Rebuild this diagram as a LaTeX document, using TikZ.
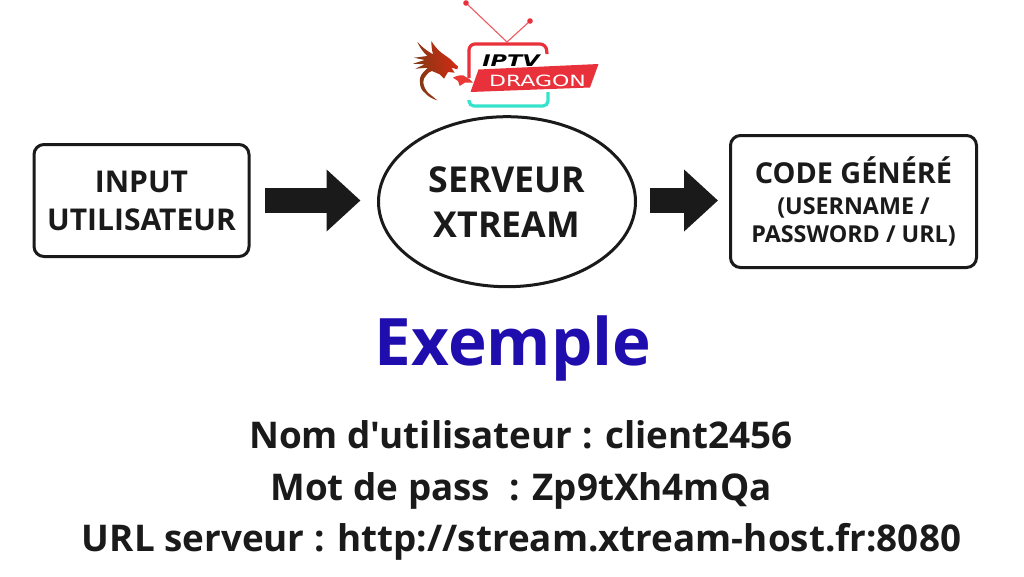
\documentclass[tikz,border=0pt]{standalone}
\usepackage{fontspec}
\setmainfont{Open Sans}
\newfontfamily\plainsans{Open Sans}
\newfontfamily\logofont{DejaVu Sans}
\usetikzlibrary{shapes.geometric,arrows.meta}
\definecolor{ink}{HTML}{1A1A1A}
\definecolor{blue}{HTML}{1F0DAE}
\definecolor{tvred}{HTML}{E8313A}
\definecolor{tvteal}{HTML}{35E3CC}
\definecolor{dragondark}{HTML}{7A3A14}
\definecolor{dragonred}{HTML}{D42A14}
\tikzset{
 flowbox/.style={draw=ink,line width=3pt,rounded corners=10pt,fill=white,align=center,text=ink,inner sep=0pt},
 flowell/.style={draw=ink,line width=3pt,ellipse,fill=white,inner sep=0pt},
 bigarrow/.style={draw=ink,line width=25pt,-{Triangle[length=34pt,width=60pt,fill=ink]}},
 label/.style={text=ink,font=\plainsans\bfseries\fontsize{36.8}{36.8}\selectfont,anchor=base,inner sep=0pt},
}
\begin{document}
\begin{tikzpicture}[x=1pt,y=-1pt]
\useasboundingbox (0,0) rectangle (1024,576);
\fill[white] (0,0) rectangle (1024,576);
% logo
\draw[tvred!80,line width=1.1pt] (466,3) -- (507,42) -- (530,21);
\fill[tvred] (466,3) circle (2.8pt) (530,21) circle (2.8pt);
\draw[tvred,line width=3.2pt,rounded corners=6pt] (469,78) -- (469,44) -- (546,44) -- (547,54);
\draw[tvteal,line width=3.2pt,rounded corners=5pt] (469,100) -- (469,106) -- (548,106) -- (548,92);
\fill[tvred] (478.5,69.5) -- (598.5,64) -- (590,87.5) -- (470.5,92) -- cycle;
\node[inner sep=0pt,xscale=1.4,transform shape,font=\logofont\bfseries\itshape\fontsize{16}{16}\selectfont] (iptv) at (511,61) {IPTV};
\node[inner sep=0pt,text=white,xscale=1.42,transform shape,font=\logofont\fontsize{15.5}{15.5}\selectfont] (dragonname) at (537.5,80.5) {DRAGON};
% dragon
\shade[left color=dragondark,right color=dragonred,shading angle=100] (417.3,42) to[bend right=8] (433,54.3) to[bend left=6] (431.3,41) to[bend right=8] (441.3,52.7) -- (449.7,58.7) -- (458,66.7) -- (457.3,69.3) -- (451.3,67.7) -- (454.7,72.7) -- (448,72) -- (444,78.7) -- (439.7,74.3) -- (432,71) to[bend right=20] (426.3,75.3) to[bend right=25] (423.3,82.7) to[bend right=15] (428,92.7) -- (437.3,100.3) to[bend left=15] (424.7,92.7) to[bend left=25] (420,82.7) to[bend left=25] (423,72.7) -- (428,67.7) -- (415.3,68.7) -- (424.7,64.3) -- (413,63.7) -- (424.7,60) -- (414,57.7) -- (427.3,56) to[bend left=10] cycle;
\fill[tvred!90!orange] (453,77.7) to[bend left=15] (463,75.3) -- (469.7,79.3) -- (473,82.7) -- (464.7,82.7) -- (459.7,86) -- (458,81) -- cycle;
% flow
\node[flowbox,minimum width=215pt,minimum height=112pt,font=\bfseries\fontsize{30}{38}\selectfont] (input) at (141.5,200.5) {INPUT\\UTILISATEUR};
\node[flowell,minimum width=257pt,minimum height=170pt,text=ink,align=center,font=\bfseries\fontsize{35.7}{45}\selectfont] (srv) at (507,201.7) {SERVEUR\\XTREAM};
\node[flowbox,minimum width=246pt,minimum height=132pt,align=center,font=\bfseries\fontsize{23.3}{28}\selectfont] (code) at (853.5,201.5) {{\fontsize{28.8}{28}\selectfont CODE GÉNÉRÉ}\\[3pt](USERNAME /\\PASSWORD / URL)};
\coordinate (a1s) at ([xshift=14pt]input.east);
\coordinate (a1e) at (srv.west |- a1s);
\draw[bigarrow,shorten >=16.5pt] (a1s) -- (a1e);
\coordinate (a2s) at ([xshift=13pt]srv.east |- a1s);
\coordinate (a2e) at (code.west |- a1s);
\draw[bigarrow,shorten >=11pt] (a2s) -- (a2e);
% text
\node[text=blue,font=\bfseries\fontsize{65.5}{65.5}\selectfont,anchor=base,inner sep=0pt] (title) at (513,365) {Exemple};
\node[label] (l1) at (521,448) {Nom d'utilisateur : client2456};
\node[label] (l2) at (521,500) {Mot de pass\ \ : Zp9tXh4mQa};
\node[label] (l3) at (521.5,551) {URL serveur : http://stream.xtream-host.fr:8080};
\end{tikzpicture}
\end{document}
